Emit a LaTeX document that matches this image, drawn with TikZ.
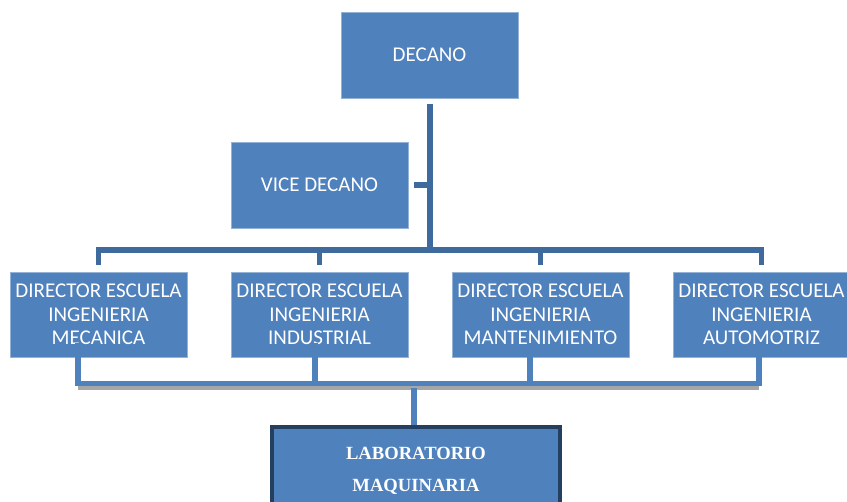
\documentclass[tikz,border=0pt]{standalone}
\usepackage{fontspec}
\setmainfont{Carlito}
\newfontfamily\labfont{Liberation Serif}
\usetikzlibrary{calc,positioning}
\definecolor{boxblue}{HTML}{4F81BD}
\definecolor{linkblue}{HTML}{3F6A9E}
\definecolor{frameblue}{HTML}{243F60}
\tikzset{
    % Boxes
    unit box/.style={draw=boxblue!60!white,line width=.8pt,fill=boxblue,text=white,
        font=\fontsize{21}{23.5}\selectfont,align=center,inner sep=0pt,
        minimum width=177pt,minimum height=86pt},
    lab box/.style={unit box,draw=frameblue,line width=4pt,
        font=\labfont\bfseries\fontsize{18.6}{32}\selectfont,
        minimum width=288pt,minimum height=86pt},
    %
    % Connectors
    upper link/.style={linkblue,line width=5.5pt},
    lower link/.style={boxblue,line width=5.5pt},
    link shadow/.style={black!35,line width=5pt}
}

\begin{document}
\begin{tikzpicture}[x=1pt,y=-1pt]
    \useasboundingbox (0,0) rectangle (847,502);
    \node[unit box] (decano) at (429.5,55) {DECANO};
    \node[unit box] (vice) at (319.5,185) {VICE DECANO};
    \foreach \name/\x/\txt in {mec/98.5/MECANICA,ind/319.5/INDUSTRIAL,man/540.5/MANTENIMIENTO,aut/761.5/AUTOMOTRIZ}
        \node[unit box,minimum height=85pt] (\name) at (\x,314.5) {DIRECTOR ESCUELA\\INGENIERIA\\\txt};
    \node[lab box] (lab) at (416,470.5) {LABORATORIO\\MAQUINARIA};

    % upper tree
    \coordinate (top bus) at (430,250);
    \draw[upper link] ($(decano.south)+(.5,6)$) -- (top bus);
    \draw[upper link] ($(vice.east)+(6,0)$) -- (vice.east -| top bus);
    \draw[upper link] ($(mec.north)+(0,-7)$) |- (top bus -| aut) -- ($(aut.north)+(0,-7)$);
    \foreach \name in {ind,man}
        \draw[upper link] ($(\name.north)+(0,-7)$) -- (top bus -| \name);

    % lower tree
    \coordinate (mec foot) at ($(mec.south)+(-20.5,26)$);
    \coordinate (ind foot) at ($(ind.south)+(-4.5,26)$);
    \coordinate (man foot) at ($(man.south)+(-10.5,26)$);
    \coordinate (aut foot) at ($(aut.south)+(-2.5,26)$);
    \draw[link shadow] ($(mec foot)+(0,4)$) -- ($(aut foot)+(0,4)$);
    \draw[lower link] ($(mec.south)+(-20.5,-14)$) -- (mec foot) -- (aut foot) -- ($(aut.south)+(-2.5,-14)$);
    \foreach \name/\dx in {ind/-4.5,man/-10.5}
        \draw[lower link] ($(\name.south)+(\dx,-14)$) -- (\name\space foot);
    \draw[lower link] ($(lab.north)+(-2,-37)$) -- ($(lab.north)+(-2,0)$);
\end{tikzpicture}
\end{document}
